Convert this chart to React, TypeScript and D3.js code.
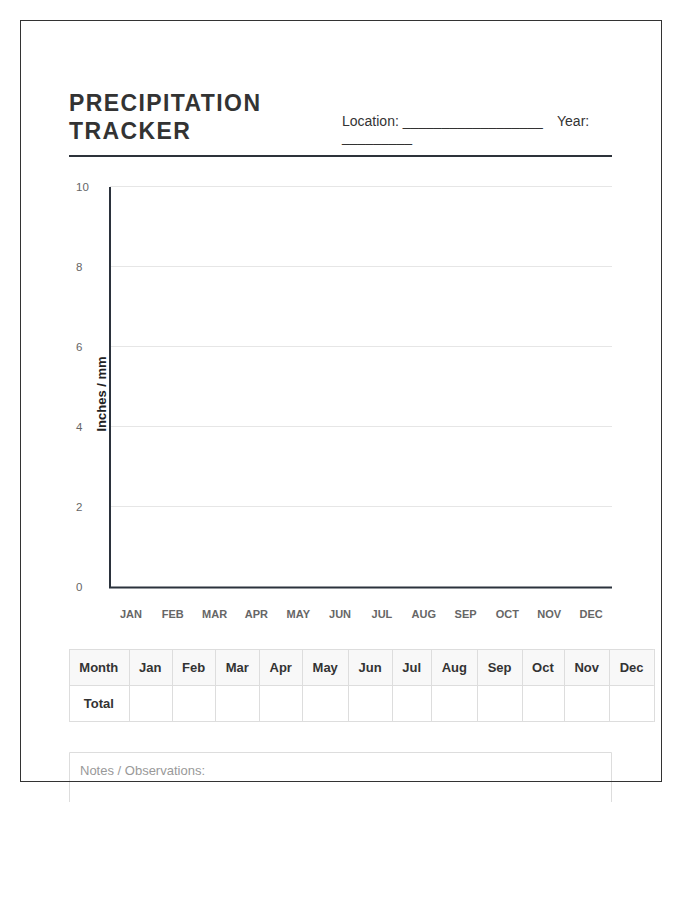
import * as d3 from 'd3';
import React, { useMemo } from 'react';

// chart content
const title = ['PRECIPITATION', 'TRACKER'];
const months = ['JAN', 'FEB', 'MAR', 'APR', 'MAY', 'JUN', 'JUL', 'AUG', 'SEP', 'OCT', 'NOV', 'DEC'];
const tableHeader = ['Month', 'Jan', 'Feb', 'Mar', 'Apr', 'May', 'Jun', 'Jul', 'Aug', 'Sep', 'Oct', 'Nov', 'Dec'];
const tableRow = ['Total', '', '', '', '', '', '', '', '', '', '', '', ''];
const yTicks = [0, 2, 4, 6, 8, 10];
const yDomain = [0, 10];
const yLabel = 'Inches / mm';
const notesLabel = 'Notes / Observations:';

const FONT = '"Liberation Sans", Arial, Helvetica, sans-serif';

const App = () => {
  const width = 700;
  const height = 900;

  // plot area
  const left = 110;
  const right = 612;
  const top = 187;
  const bottom = 587;

  const x = d3.scaleBand<string>().domain(months).range([left, right]);
  const y = d3.scaleLinear().domain(yDomain).range([bottom, top]);

  // auto-width table columns, like an html table would do
  const colEdges = useMemo(() => {
    const ctx = document.createElement('canvas').getContext('2d');
    ctx.font = `bold 13px ${FONT}`;
    const widths = tableHeader.map((t) => ctx.measureText(t).width + 20.65);
    const edges = [69];
    widths.forEach((w) => edges.push(edges[edges.length - 1] + w));
    return edges;
  }, []);

  const tableTop = 649;
  const rowH = 36;

  return (
    <svg
      width={width}
      height={height}
      style={{ position: 'absolute', left: 0, top: 0, background: '#fff' }}
      fontFamily={FONT}
    >
      {/* title */}
      <g fill="#333" fontWeight="bold" fontSize={23} letterSpacing={1.4}>
        {title.map((t, i) => (
          <text key={t} x={69} y={111 + i * 28}>{t}</text>
        ))}
      </g>
      <g fill="#333" fontSize={14} style={{ whiteSpace: 'pre' }}>
        <text x={342} y={126}>Location: __________________</text>
        <text x={557} y={126}>Year:</text>
        <text x={342} y={142}>_________</text>
      </g>
      <rect x={69} y={155} width={543} height={2} fill="#2d323a" />

      {/* grid */}
      <g stroke="#e6e6e6" strokeWidth={1}>
        {yTicks.filter((t) => t > 0).map((t) => (
          <line key={t} x1={left} x2={right} y1={Math.round(y(t)) - 0.5} y2={Math.round(y(t)) - 0.5} />
        ))}
      </g>
      <g fill="#666" fontSize={11.5}>
        {yTicks.map((t) => (
          <text key={t} x={76} y={y(t)} dy="0.35em">{t}</text>
        ))}
      </g>

      {/* axes */}
      <line x1={left} x2={left} y1={top} y2={bottom + 1} stroke="#2b323c" strokeWidth={2} />
      <line x1={left - 1} x2={right} y1={bottom + 0.5} y2={bottom + 0.5} stroke="#2b323c" strokeWidth={2} />

      <text
        transform={`translate(106,${(top + bottom) / 2 + 7}) rotate(-90)`}
        textAnchor="middle"
        fontWeight="bold"
        fontSize={13}
        fill="#222"
      >
        {yLabel}
      </text>

      <g fill="#666" fontSize={11} fontWeight="bold" textAnchor="middle">
        {months.map((m) => (
          <text key={m} x={x(m) + x.bandwidth() / 2} y={614} dy="0.35em">{m}</text>
        ))}
      </g>

      {/* table */}
      <rect
        x={colEdges[0]}
        y={tableTop}
        width={colEdges[colEdges.length - 1] - colEdges[0]}
        height={rowH}
        fill="#f8f8f8"
      />
      <g stroke="#dddddd" strokeWidth={1} fill="none">
        {[0, 1, 2].map((r) => (
          <line
            key={r}
            x1={colEdges[0]}
            x2={colEdges[colEdges.length - 1]}
            y1={tableTop + r * rowH + 0.5}
            y2={tableTop + r * rowH + 0.5}
          />
        ))}
        {colEdges.map((e, i) => (
          <line
            key={i}
            x1={Math.round(e) + 0.5}
            x2={Math.round(e) + 0.5}
            y1={tableTop}
            y2={tableTop + 2 * rowH + 1}
          />
        ))}
      </g>
      <g fill="#333" fontSize={13} fontWeight="bold" textAnchor="middle">
        {tableHeader.map((t, i) => (
          <text key={t} x={(colEdges[i] + colEdges[i + 1]) / 2} y={tableTop + rowH / 2} dy="0.35em">{t}</text>
        ))}
        {tableRow.map((t, i) => (
          <text key={i} x={(colEdges[i] + colEdges[i + 1]) / 2} y={tableTop + rowH * 1.5} dy="0.35em">{t}</text>
        ))}
      </g>

      {/* notes */}
      <path d="M69.5,802V752.5H611.5V802" fill="none" stroke="#dddddd" strokeWidth={1} />
      <text x={80} y={770} dy="0.35em" fontSize={13} fill="#999">{notesLabel}</text>

      {/* page border */}
      <rect x={20.5} y={20.5} width={641} height={761} fill="none" stroke="#333" strokeWidth={1} />
    </svg>
  );
};

export default App;
